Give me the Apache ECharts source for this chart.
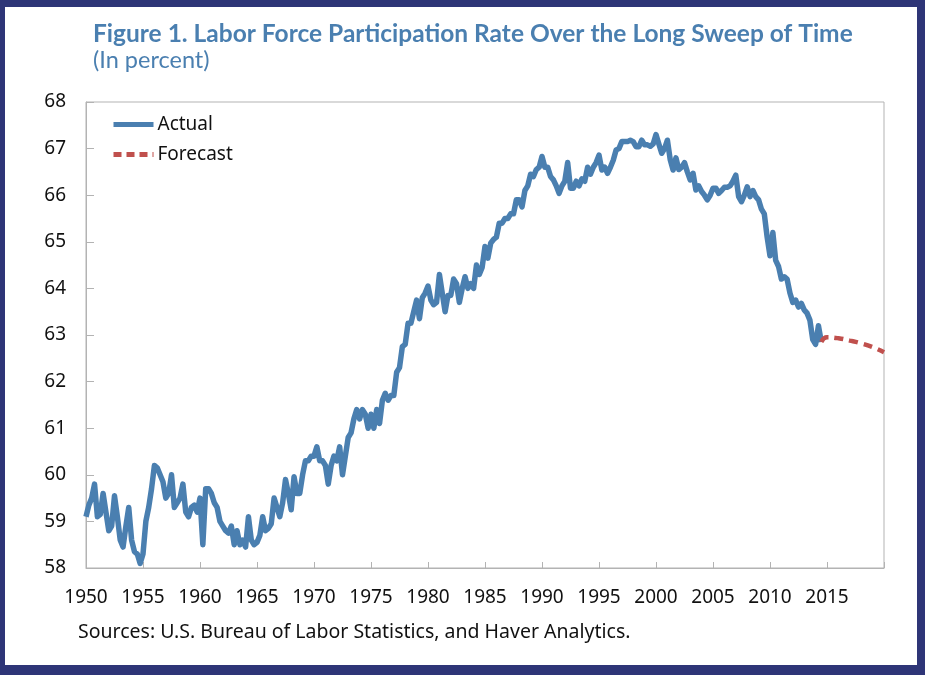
<!DOCTYPE html>
<html>
<head>
<meta charset="utf-8">
<script src="https://cdn.jsdelivr.net/npm/echarts@6/dist/echarts.min.js"></script>
<style>
html,body{margin:0;padding:0;background:#fff;}
#chart{width:925px;height:675px;}
</style>
</head>
<body>
<div id="chart"></div>
<script>
// Quarterly readings of the actual series, starting 1950 Q1
const actualStartYear = 1950;
const actualStep = 0.25;
const actualValues = [
  59.1, 59.35, 59.5, 59.8,
  59.1, 59.15, 59.6, 59.2,
  58.8, 58.9, 59.55, 59.1,
  58.6, 58.45, 58.9, 59.3,
  58.6, 58.35, 58.3, 58.1,
  58.3, 59.0, 59.3, 59.7,
  60.2, 60.15, 60.0, 59.85,
  59.5, 59.6, 60.0, 59.3,
  59.4, 59.5, 59.8, 59.2,
  59.1, 59.3, 59.35, 59.2,
  59.5, 58.5, 59.7, 59.7,
  59.6, 59.4, 59.3, 59.0,
  58.9, 58.8, 58.75, 58.9,
  58.5, 58.8, 58.5, 58.6,
  58.45, 59.1, 58.6, 58.5,
  58.55, 58.7, 59.1, 58.8,
  58.85, 58.95, 59.5, 59.3,
  59.1, 59.4, 59.9, 59.6,
  59.25, 59.96, 59.6, 59.6,
  60.0, 60.3, 60.3, 60.4,
  60.4, 60.6, 60.3, 60.3,
  60.2, 59.8, 60.2, 60.4,
  60.3, 60.6, 60.0, 60.4,
  60.8, 60.9, 61.2, 61.4,
  61.2, 61.4, 61.3, 61.0,
  61.3, 61.0, 61.4, 61.1,
  61.6, 61.75, 61.6, 61.7,
  61.7, 62.2, 62.3, 62.75,
  62.8, 63.25, 63.25, 63.5,
  63.75, 63.35, 63.8, 63.9,
  64.05, 63.75, 63.65, 63.7,
  64.3, 63.9, 63.5, 63.85,
  63.85, 64.2, 64.1, 63.7,
  64.0, 64.25, 64.0, 64.1,
  64.0, 64.5, 64.3, 64.45,
  64.9, 64.65, 64.97, 65.05,
  65.1, 65.4, 65.4, 65.5,
  65.5, 65.6, 65.6, 65.9,
  65.9, 65.75, 66.1, 66.2,
  66.45, 66.4, 66.55, 66.6,
  66.83, 66.6, 66.6, 66.4,
  66.33, 66.2, 66.04, 66.2,
  66.3, 66.7, 66.15, 66.15,
  66.3, 66.2, 66.35, 66.3,
  66.6, 66.45, 66.6, 66.7,
  66.86, 66.54, 66.6, 66.47,
  66.6, 66.75, 66.97, 67.0,
  67.15, 67.15, 67.15, 67.18,
  67.15, 67.04, 67.04, 67.18,
  67.08, 67.08, 67.05, 67.1,
  67.3, 67.1, 66.9, 67.0,
  67.18, 66.76, 66.54, 66.8,
  66.55, 66.6, 66.7, 66.5,
  66.33, 66.47, 66.11, 66.2,
  66.08, 66.0, 65.9, 66.0,
  66.15, 66.15, 66.04, 66.1,
  66.17, 66.17, 66.2, 66.3,
  66.43, 65.97, 65.86, 66.0,
  66.18, 65.97, 66.1, 65.97,
  65.9, 65.7, 65.6, 65.1,
  64.7, 65.2, 64.6, 64.47,
  64.2, 64.25, 64.2, 63.9,
  63.7, 63.75, 63.6, 63.68,
  63.54, 63.47, 63.32, 62.9,
  62.8, 63.2, 62.85
];
const forecastYears = [2014.5, 2015, 2016, 2017, 2018, 2019, 2020];
const forecastValues = [62.85, 62.95, 62.93, 62.88, 62.82, 62.74, 62.63];
const xTickLabels = ['1950','1955','1960','1965','1970','1975','1980','1985','1990','1995','2000','2005','2010','2015'];

const actualData = actualValues.map((v, i) => [actualStartYear + i * actualStep, v]);
const forecastData = forecastValues.map((v, i) => [forecastYears[i], v]);

const chart = echarts.init(document.getElementById('chart'), null, {renderer: 'canvas'});
const axisGray = '#b3b3b3';
const fontFam = '"Noto Sans", "Open Sans", sans-serif';
chart.setOption({
  backgroundColor: '#2e3577',
  animation: false,
  graphic: [
    {type: 'rect', z: -10, shape: {x: 5, y: 7, width: 912, height: 658}, style: {fill: '#ffffff'}},
    {type: 'text', left: 93, top: 22, style: {text: 'Figure 1. Labor Force Participation Rate Over the Long Sweep of Time', fill: '#4a7fb0', font: 'bold 24.5px Lato, "Liberation Sans", sans-serif'}},
    {type: 'text', left: 93, top: 48, style: {text: '(In percent)', fill: '#4a7fb0', font: '23.5px Lato, "Liberation Sans", sans-serif'}},
    {type: 'text', left: 78, top: 622, style: {text: 'Sources: U.S. Bureau of Labor Statistics, and Haver Analytics.', fill: '#111', font: '19.5px ' + fontFam}}
  ],
  grid: {left: 86, top: 102, right: 41, bottom: 107, show: true, borderColor: axisGray, borderWidth: 1, backgroundColor: 'transparent'},
  legend: {
    orient: 'vertical', left: 111, top: 115, padding: 0, itemWidth: 40, itemHeight: 19, itemGap: 11,
    itemStyle: {opacity: 0},
    textStyle: {fontSize: 19, color: '#111', fontFamily: fontFam, padding: [0, 0, 0, -1]},
    data: [
      {name: 'Actual', lineStyle: {width: 5, color: '#4a7fb0'}},
      {name: 'Forecast', lineStyle: {width: 5, color: '#c0504d', type: [8, 5]}}
    ]
  },
  xAxis: {
    type: 'value', min: 1950, max: 2020, interval: 5,
    axisLine: {lineStyle: {color: axisGray}},
    axisTick: {inside: true, length: 6, lineStyle: {color: axisGray}},
    splitLine: {show: false},
    axisLabel: {
      margin: 20, fontSize: 19, color: '#111', fontFamily: fontFam,
      formatter: v => { const s = String(v); return xTickLabels.indexOf(s) >= 0 ? s : ''; }
    }
  },
  yAxis: {
    type: 'value', min: 58, max: 68, interval: 1,
    axisLine: {show: true, lineStyle: {color: axisGray}},
    axisTick: {show: true, inside: true, length: 8, lineStyle: {color: axisGray}},
    splitLine: {show: false},
    axisLabel: {margin: 20, fontSize: 19, color: '#111', fontFamily: fontFam}
  },
  series: [
    {name: 'Actual', type: 'line', data: actualData, symbol: 'none', showSymbol: false,
     lineStyle: {color: '#4a7fb0', width: 5.5, join: 'round'}, itemStyle: {color: '#4a7fb0'}, z: 3},
    {name: 'Forecast', type: 'line', data: forecastData, symbol: 'none', showSymbol: false, smooth: true,
     lineStyle: {color: '#c0504d', width: 4.5, type: [9, 6]}, itemStyle: {color: '#c0504d'}, z: 3}
  ]
});
</script>
</body>
</html>
